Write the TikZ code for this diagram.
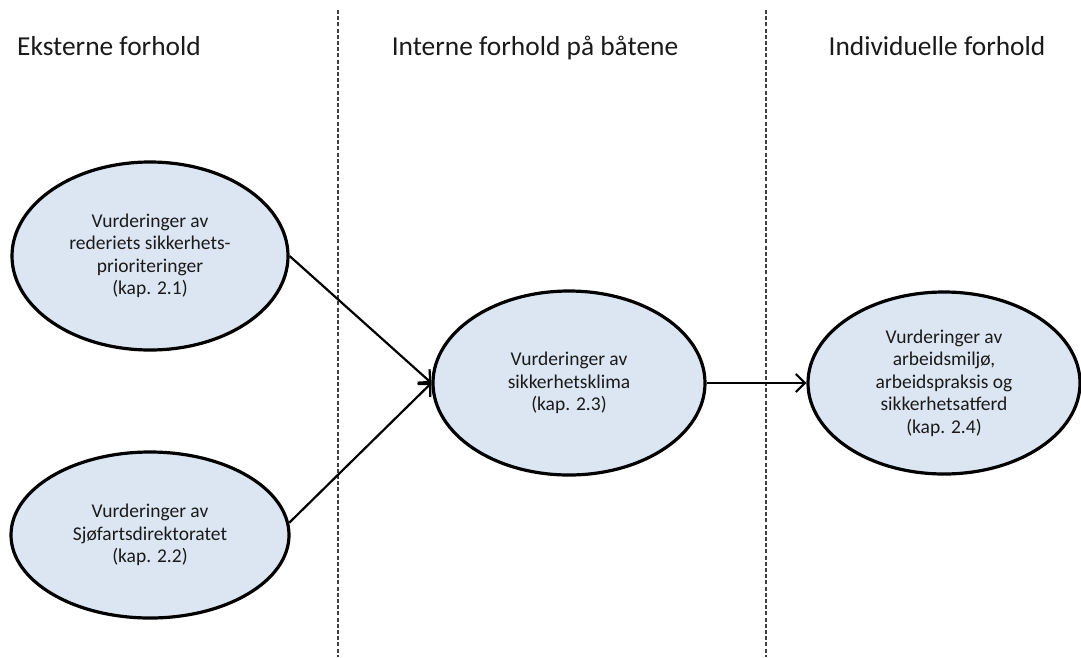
\documentclass[tikz,border=0pt]{standalone}
\usepackage{fontspec}
\setmainfont{Carlito}
\usetikzlibrary{shapes.geometric,arrows.meta}
\definecolor{ellfill}{HTML}{DCE6F2}
\definecolor{txt}{HTML}{1A1A1A}
\definecolor{sep}{HTML}{404040}
\tikzset{
  oval/.style={ellipse, draw=black, line width=3.2pt, fill=ellfill, inner sep=0pt,
    align=center, text=txt, font=\fontsize{19.5}{22.5}\selectfont},
  heading/.style={text=txt, font=\fontsize{27.4}{33}\selectfont, inner sep=0pt},
  link/.style={line width=2.2pt, -{Straight Barb[length=9pt,width=18pt,line width=2.2pt]}},
  divider/.style={sep, line width=1.6pt, dash pattern=on 4pt off 2.2pt}
}
\begin{document}
\begin{tikzpicture}[x=1pt,y=-1pt]
\useasboundingbox (0,0) rectangle (1081,657);
% dividers
\coordinate (d1t) at (338,10); \coordinate (d1b) at (338,657);
\coordinate (d2t) at (766,10); \coordinate (d2b) at (766,657);
\draw[divider] (d1t) -- (d1b);
\draw[divider] (d2t) -- (d2b);
% headings
\node[heading, anchor=base west] (h1) at (17,55) {Eksterne forhold};
\node[heading, anchor=base] (h2) at (535,55) {Interne forhold på båtene};
\node[heading, anchor=base] (h3) at (937,55) {Individuelle forhold};
% ellipses
\node[oval, minimum width=276pt, minimum height=188pt] (e1) at (150,256)
  {Vurderinger av\\rederiets sikkerhets-\\prioriteringer\\(kap. 2.1)};
\node[oval, minimum width=278pt, minimum height=166pt] (e2) at (150,535)
  {Vurderinger av\\Sjøfartsdirektoratet\\(kap. 2.2)};
\node[oval, minimum width=272pt, minimum height=184pt] (e3) at (569,383)
  {Vurderinger av\\sikkerhetsklima\\(kap. 2.3)};
\node[oval, minimum width=272pt, minimum height=182pt] (e4) at (944,383)
  {Vurderinger av\\arbeidsmiljø,\\arbeidspraksis og\\sikkerhetsatferd\\(kap. 2.4)};
% connectors
\draw[link] (e1.east) -- (e3.west);
\draw[link] (e2.5) -- (e3.west);
\draw[link] (e3.east) -- (e4.west);
\end{tikzpicture}
\end{document}
